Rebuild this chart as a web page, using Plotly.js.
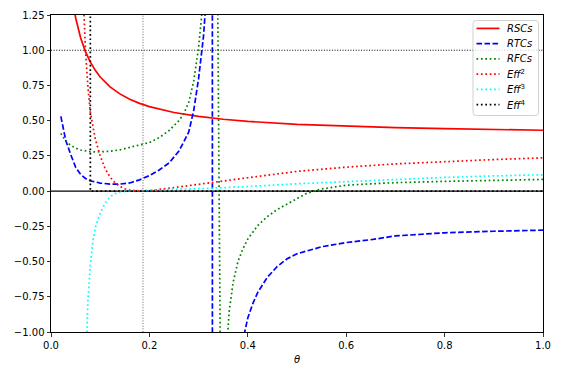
<!DOCTYPE html>
<html>
<head>
<meta charset="utf-8">
<script src="https://cdn.plot.ly/plotly-3.0.1.min.js"></script>
<style>html,body{margin:0;padding:0;background:#fff;}#chart{width:563px;height:375px;}</style>
</head>
<body>
<div id="chart"></div>
<script>
// ---- data ----
const thetaRSC = [0.02,0.03,0.04,0.05,0.06,0.07,0.08,0.09,0.10,0.12,0.14,0.16,0.18,0.20,0.25,0.30,0.35,0.40,0.50,0.60,0.70,0.80,0.90,1.00];
const rsc      = [2.5,1.79,1.44,1.23,1.09,0.99,0.915,0.857,0.81,0.74,0.69,0.652,0.623,0.60,0.558,0.53,0.51,0.495,0.474,0.46,0.45,0.443,0.437,0.432];

const thetaRTC = [0.02,0.03,0.04,0.05,0.06,0.07,0.08,0.09,0.10,0.12,0.14,0.16,0.18,0.20,0.22,0.24,0.26,0.27,0.28,0.29,0.30,0.31,0.32,0.327,0.329,0.34,0.36,0.38,0.39,0.40,0.41,0.42,0.44,0.46,0.48,0.50,0.55,0.60,0.65,0.70,0.75,0.80,0.90,1.00];
const rtc      = [0.53,0.36,0.26,0.17,0.12,0.09,0.073,0.063,0.057,0.05,0.05,0.058,0.08,0.11,0.15,0.2,0.285,0.35,0.42,0.57,0.8,1.1,1.6,40,-40,-8,-2.5,-1.4,-1.06,-0.9,-0.8,-0.72,-0.61,-0.535,-0.48,-0.445,-0.395,-0.365,-0.345,-0.318,-0.305,-0.296,-0.285,-0.277];

const thetaRFC = [0.02,0.03,0.04,0.05,0.06,0.07,0.08,0.09,0.10,0.12,0.14,0.16,0.18,0.20,0.22,0.24,0.26,0.27,0.28,0.29,0.30,0.31,0.32,0.33,0.337,0.347,0.355,0.362,0.37,0.38,0.39,0.40,0.42,0.44,0.46,0.48,0.50,0.52,0.55,0.60,0.65,0.70,0.80,0.90,1.00];
const rfc      = [0.41,0.355,0.325,0.305,0.292,0.285,0.28,0.278,0.278,0.283,0.293,0.31,0.33,0.345,0.38,0.43,0.5,0.55,0.63,0.78,1.02,1.45,1.9,2.1,2.2,-2.5,-1.25,-0.86,-0.65,-0.5,-0.41,-0.34,-0.245,-0.18,-0.13,-0.09,-0.05,-0.015,0.015,0.042,0.052,0.06,0.069,0.077,0.083];

const thetaE2 = [0.05,0.06,0.07,0.075,0.08,0.085,0.09,0.10,0.11,0.12,0.13,0.14,0.15,0.16,0.17,0.18,0.19,0.20,0.25,0.30,0.35,0.40,0.50,0.60,0.70,0.80,0.90,1.00];
const eff2    = [3.0,1.9,1.0,0.74,0.56,0.45,0.37,0.25,0.16,0.1,0.06,0.033,0.017,0.008,0.003,0.001,0.001,0.003,0.025,0.05,0.074,0.095,0.14,0.17,0.193,0.21,0.224,0.236];

const thetaE3 = [0.06,0.07,0.075,0.08,0.085,0.09,0.10,0.11,0.12,0.13,0.14,0.15,0.16,0.18,0.20,0.25,0.30,0.35,0.40,0.50,0.60,0.70,0.80,0.90,1.00];
const eff3    = [-3.0,-1.3,-0.78,-0.52,-0.36,-0.26,-0.155,-0.085,-0.04,-0.018,-0.006,0.0,0.002,0.005,0.008,0.013,0.017,0.022,0.032,0.052,0.068,0.083,0.097,0.108,0.116];

const thetaE4 = [0.07,0.08,1.00];
const eff4    = [150,0,0];

const seriesNames = ['<i>RSCs</i>','<i>RTCs</i>','<i>RFCs</i>','<i>Eff</i><sup>2</sup>','<i>Eff</i><sup>3</sup>','<i>Eff</i><sup>4</sup>'];

const refHLineDotted = [1.0];
const refHLineSolid  = [0.0];
const refVLineGrey   = [0.187];

const xTickVals = [0,0.2,0.4,0.6,0.8,1.0];
const xTickText = ['0.0','0.2','0.4','0.6','0.8','1.0'];
const yTickVals = [-1,-0.75,-0.5,-0.25,0,0.25,0.5,0.75,1.0,1.25];
const yTickText = ['\u22121.00','\u22120.75','\u22120.50','\u22120.25','0.00','0.25','0.50','0.75','1.00','1.25'];

// ---- drawing ----
const LW = 1.7;
const DASH = '5.6px,2.4px';
const DOT = '1.7px,2.7px';
const styles = [
  {color: '#ff0000', dash: 'solid'},
  {color: '#0000ff', dash: DASH},
  {color: '#008000', dash: DOT},
  {color: '#ff0000', dash: DOT},
  {color: '#00ffff', dash: DOT},
  {color: '#000000', dash: DOT}
];
const xs = [thetaRSC, thetaRTC, thetaRFC, thetaE2, thetaE3, thetaE4];
const ys = [rsc, rtc, rfc, eff2, eff3, eff4];
const traces = xs.map((x, i) => ({
  x: x, y: ys[i], name: seriesNames[i], type: 'scatter', mode: 'lines', showlegend: false,
  line: {color: styles[i].color, width: LW, dash: styles[i].dash}
}));

const shapes = [];
refHLineDotted.forEach(v => shapes.push({type:'line', xref:'paper', yref:'y', x0:0, x1:1, y0:v, y1:v, layer:'below',
  line:{color:'#000', width:1, dash:'1px,1.65px'}}));
refHLineSolid.forEach(v => shapes.push({type:'line', xref:'paper', yref:'y', x0:0, x1:1, y0:v, y1:v, layer:'below',
  line:{color:'#000', width:1.2}}));
refVLineGrey.forEach(v => shapes.push({type:'line', xref:'x', yref:'paper', x0:v, x1:v, y0:0, y1:1, layer:'below',
  line:{color:'#666', width:1, dash:'1px,1.65px'}}));

// ---- custom legend (matplotlib-like), pixel geometry converted to paper coords ----
const plotL = 51, plotR = 543, plotT = 15, plotB = 332;
const px = p => (p - plotL) / (plotR - plotL);
const py = p => (plotB - p) / (plotB - plotT);
const boxL = 473, boxR = 538.5, boxT = 20.5, boxB = 115.5, rad = 3;
const boxPath = 'M' + px(boxL + rad) + ',' + py(boxT) +
  ' L' + px(boxR - rad) + ',' + py(boxT) + ' Q' + px(boxR) + ',' + py(boxT) + ' ' + px(boxR) + ',' + py(boxT + rad) +
  ' L' + px(boxR) + ',' + py(boxB - rad) + ' Q' + px(boxR) + ',' + py(boxB) + ' ' + px(boxR - rad) + ',' + py(boxB) +
  ' L' + px(boxL + rad) + ',' + py(boxB) + ' Q' + px(boxL) + ',' + py(boxB) + ' ' + px(boxL) + ',' + py(boxB - rad) +
  ' L' + px(boxL) + ',' + py(boxT + rad) + ' Q' + px(boxL) + ',' + py(boxT) + ' ' + px(boxL + rad) + ',' + py(boxT) + ' Z';
shapes.push({type: 'path', xref: 'paper', yref: 'paper', path: boxPath, layer: 'above',
  fillcolor: 'rgba(255,255,255,0.8)', line: {color: 'rgba(204,204,204,0.9)', width: 1}});
const annotations = [];
const rowTop = 28.4, rowStep = 15.25, sampleL = 476.5, sampleR = 499.5, textL = 506;
seriesNames.forEach((n, i) => {
  const yy = py(rowTop + i * rowStep);
  shapes.push({type: 'line', xref: 'paper', yref: 'paper', x0: px(sampleL), x1: px(sampleR), y0: yy, y1: yy,
    layer: 'above', line: {color: styles[i].color, width: LW, dash: styles[i].dash}});
  annotations.push({xref: 'paper', yref: 'paper', x: px(textL), y: yy, xanchor: 'left', yanchor: 'middle',
    text: n, showarrow: false, font: {family: 'DejaVu Sans, sans-serif', size: 10, color: '#000'}, borderpad: 0});
});

const font = {family: 'DejaVu Sans, sans-serif', size: 10, color: '#000'};
const layout = {
  width: 563, height: 375,
  margin: {l: 51, r: 20, t: 15, b: 43, pad: 0},
  paper_bgcolor: '#fff', plot_bgcolor: '#fff',
  font: font,
  showlegend: false,
  xaxis: {range: [0, 1], tickvals: xTickVals, ticktext: xTickText,
          ticks: 'outside', ticklen: 3.5, tickwidth: 0.8, tickcolor: '#000',
          showline: true, mirror: true, linecolor: '#000', linewidth: 1,
          showgrid: false, zeroline: false, tickfont: font,
          title: {text: '<i>θ</i>', font: font, standoff: 6}},
  yaxis: {range: [-1, 1.25], tickvals: yTickVals, ticktext: yTickText,
          ticks: 'outside', ticklen: 3.5, tickwidth: 0.8, tickcolor: '#000',
          showline: true, mirror: true, linecolor: '#000', linewidth: 1,
          showgrid: false, zeroline: false, tickfont: font},
  shapes: shapes,
  annotations: annotations
};
Plotly.newPlot('chart', traces, layout, {staticPlot: true, displayModeBar: false});
</script>
</body>
</html>
